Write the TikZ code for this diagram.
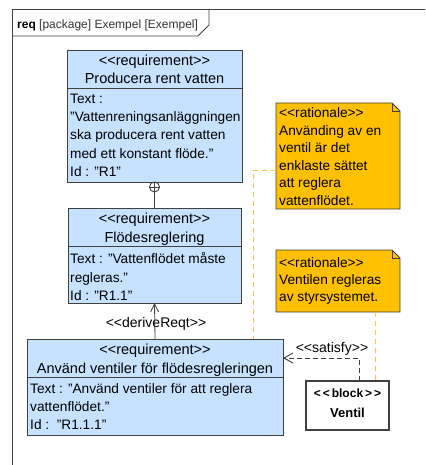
\documentclass[tikz,border=0pt]{standalone}
\usepackage{fontspec}
\setmainfont{Liberation Sans}
\usetikzlibrary{arrows.meta}
\definecolor{reqblue}{HTML}{C6E2FF}
\definecolor{edge}{HTML}{404040}
\definecolor{ratyellow}{HTML}{FFC000}
\definecolor{linkyellow}{HTML}{F8C640}
\definecolor{titlegray}{HTML}{333333}
\newcommand\sq{\symbol{34}}
\begin{document}
\begin{tikzpicture}[x=1pt,y=-1pt,
  reqbox/.style={draw=edge, fill=reqblue, line width=0.9pt, inner sep=0pt, outer sep=0pt},
  blockbox/.style={draw=edge, fill=white, line width=1.1pt, inner sep=0pt, outer sep=0pt},
  notebox/.style={inner sep=0pt, outer sep=0pt},
  notefill/.style={draw=edge, fill=ratyellow, line width=0.8pt},
  hd/.style={font=\fontsize{14.5}{17}\selectfont, inner sep=0pt, anchor=base},
  bd/.style={font=\fontsize{13.7}{17}\selectfont, inner sep=0pt, anchor=base west},
  lbl/.style={font=\fontsize{14}{17}\selectfont, inner sep=0pt, anchor=base},
  conn/.style={draw=edge, line width=0.9pt},
  anchorline/.style={draw=linkyellow, line width=0.9pt, dash pattern=on 5pt off 4pt},
]
\useasboundingbox (0,0) rectangle (425,465);

% frame
\draw[edge, line width=0.9pt] (425,9) -- (12,9) -- (12,465);
\draw[edge, line width=0.9pt] (12,36) -- (198,36) -- (209,25) -- (209,9);
\node[font=\fontsize{12}{14}\selectfont, inner sep=0pt, anchor=base west, text=titlegray] (title) at (17,29)
  {\textbf{\color{black}req} [package] Exempel [Exempel]};

% requirement boxes
\node[reqbox, minimum width=175pt, minimum height=132pt] (r1) at (154.5,116) {};
\draw[conn] ([yshift=-38pt]r1.north west) -- ([yshift=-38pt]r1.north east);
\node[hd] (r1h1) at (154.5,66) {<{}<requirement>{}>};
\node[hd] (r1h2) at (154.5,84) {Producera rent vatten};
\node[bd] (r1b1) at (70,104) {Text :};
\node[bd] (r1b2) at (70,122) {\sq Vattenreningsanläggningen};
\node[bd] (r1b3) at (70,140) {ska producera rent vatten};
\node[bd] (r1b4) at (70,158) {med ett konstant flöde.\sq};
\node[bd] (r1b5) at (70,176) {Id : \sq R1\sq};

\node[reqbox, minimum width=173pt, minimum height=95pt] (r2) at (154.5,255.5) {};
\draw[conn] ([yshift=-38pt]r2.north west) -- ([yshift=-38pt]r2.north east);
\node[hd] (r2h1) at (154.5,223) {<{}<requirement>{}>};
\node[hd] (r2h2) at (154.5,242) {Flödesreglering};
\node[bd] (r2b1) at (70,263) {Text : \sq Vattenflödet måste};
\node[bd] (r2b2) at (70,282) {regleras.\sq};
\node[bd] (r2b3) at (70,300) {Id : \sq R1.1\sq};

\node[reqbox, minimum width=256pt, minimum height=96pt] (r3) at (155,387) {};
\draw[conn] ([yshift=-38pt]r3.north west) -- ([yshift=-38pt]r3.north east);
\node[hd] (r3h1) at (155,354) {<{}<requirement>{}>};
\node[hd] (r3h2) at (155,373) {Använd ventiler för flödesregleringen};
\node[bd] (r3b1) at (30,393) {Text : \sq Använd ventiler för att reglera};
\node[bd] (r3b2) at (30,411) {vattenflödet.\sq};
\node[bd] (r3b3) at (30,429) {Id :\ \ \sq R1.1.1\sq};

% block
\node[blockbox, minimum width=83pt, minimum height=49pt] (ventil) at (347.5,405.5) {};
\node[font=\fontsize{12}{14}\selectfont\bfseries, inner sep=0pt, anchor=base] (vs) at (347.5,397) {<\,<\,block\,>\,>};
\node[font=\fontsize{13}{15}\selectfont\bfseries, inner sep=0pt, anchor=base] (vn) at (347.5,417) {Ventil};

% rationale notes
\node[notebox, minimum width=124pt, minimum height=106pt] (rat1) at (338,156) {};
\draw[notefill] (rat1.north west) -- ([xshift=-8pt]rat1.north east) -- ([yshift=-8pt]rat1.north east) -- (rat1.south east) -- (rat1.south west) -- cycle;
\draw[edge, line width=0.8pt] ([xshift=-8pt]rat1.north east) -- ([xshift=-8pt,yshift=-8pt]rat1.north east) -- ([yshift=-8pt]rat1.north east);
\node[bd] (q1) at (279,118) {<{}<rationale>{}>};
\node[bd] (q2) at (279,135.5) {Använding av en};
\node[bd] (q3) at (279,153) {ventil är det};
\node[bd] (q4) at (279,170) {enklaste sättet};
\node[bd] (q5) at (279,187.5) {att reglera};
\node[bd] (q6) at (279,205) {vattenflödet.};

\node[notebox, minimum width=124pt, minimum height=62pt] (rat2) at (338,281) {};
\draw[notefill] (rat2.north west) -- ([xshift=-8pt]rat2.north east) -- ([yshift=-8pt]rat2.north east) -- (rat2.south east) -- (rat2.south west) -- cycle;
\draw[edge, line width=0.8pt] ([xshift=-8pt]rat2.north east) -- ([xshift=-8pt,yshift=-8pt]rat2.north east) -- ([yshift=-8pt]rat2.north east);
\node[bd] (p1) at (279,267) {<{}<rationale>{}>};
\node[bd] (p2) at (279,284) {Ventilen regleras};
\node[bd] (p3) at (279,301) {av styrsystemet.};

% rationale anchors
\draw[anchorline] ([yshift=-14pt]rat1.west) -| ([xshift=98pt]r3.north);
\draw[anchorline] ([xshift=37pt]rat2.south) -- ([xshift=37pt]rat2.south |- ventil.north);

% containment
\draw[conn] (r1.south) -- (r2.north);
\draw[conn, fill=white] ([yshift=-5pt]r1.south) circle[radius=5pt];
\draw[conn] (r1.south) -- ([yshift=-10pt]r1.south);
\draw[conn] ([xshift=-5pt,yshift=-5pt]r1.south) -- ([xshift=5pt,yshift=-5pt]r1.south);

% deriveReqt
\draw[conn, line width=0.8pt, -{Straight Barb[length=8pt,width=8pt]}] (r3.north) -- (r2.south);
\node[lbl] (dl) at (156,327) {<{}<deriveReqt>{}>};

% satisfy
\draw[conn, line width=0.9pt, dash pattern=on 5pt off 3pt, -{Straight Barb[length=9pt,width=10pt]}]
  ([xshift=11.5pt]ventil.north) |- ([yshift=29pt]r3.east);
\node[lbl] (sl) at (332,352) {<{}<satisfy>{}>};
\end{tikzpicture}
\end{document}
